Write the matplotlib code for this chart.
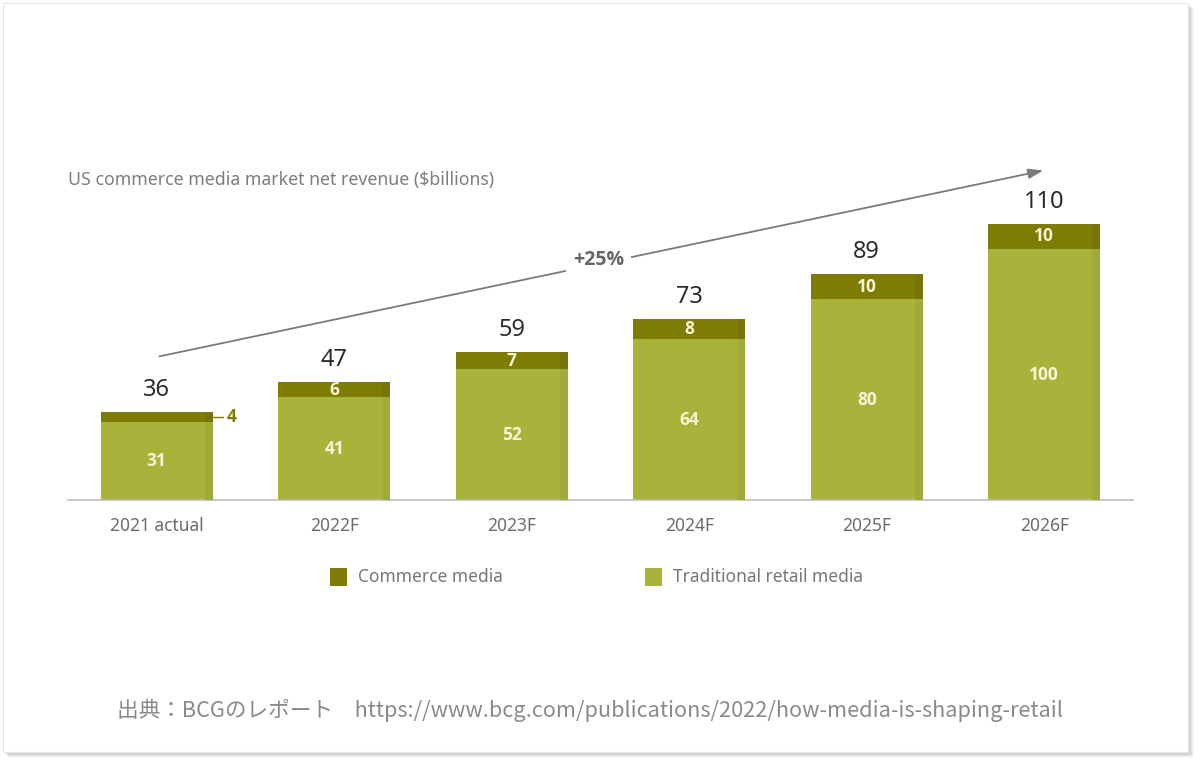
import matplotlib
matplotlib.use("Agg")
import matplotlib.pyplot as plt
from matplotlib.patches import Rectangle
import numpy as np

years = ["2021 actual", "2022F", "2023F", "2024F", "2025F", "2026F"]
traditional = [31, 41, 52, 64, 80, 100]
commerce = [4, 6, 7, 8, 10, 10]
totals = [36, 47, 59, 73, 89, 110]
growth_label = "+25%"

title = "US commerce media market net revenue ($billions)"
footer = "出典：BCGのレポート　https://www.bcg.com/publications/2022/how-media-is-shaping-retail"

c_comm = "#7f7c06"
c_trad = "#a9b33c"
c_comm_edge = "#77740a"
c_trad_edge = "#a0ab3a"
c_inner = "#f7f4d4"

plt.rcParams["font.family"] = ["Noto Sans", "DejaVu Sans"]
BOLD = ["Open Sans", "DejaVu Sans"]

W, H = 1200, 765
fig = plt.figure(figsize=(W / 100, H / 100), dpi=100)
fig.patch.set_facecolor("white")

def px(x0, y0, x1, y1):
    # pixel box (top-left origin) -> figure fraction rect
    return (x0 / W, 1 - y1 / H, (x1 - x0) / W, (y1 - y0) / H)

# card with a soft shadow
for k, a in [(6, 0.05), (5, 0.08), (4, 0.12), (3, 0.18)]:
    l, b, w, h = px(3 + k, 3 + k, 1188 + k, 752 + k)
    fig.patches.append(Rectangle((l, b), w, h, transform=fig.transFigure,
                                 facecolor="#888888", alpha=a, edgecolor="none", zorder=-2))
l, b, w, h = px(3, 3, 1188, 752)
fig.patches.append(Rectangle((l, b), w, h, transform=fig.transFigure,
                             facecolor="white", edgecolor="#e6e6e6", lw=0.8, zorder=-1))

# axes: baseline at y=500px, x from 68 to 1133px, 2.51 px per unit
ax = fig.add_axes(px(68, 100, 1133, 500))
ax.set_zorder(5)
ax.set_xlim(-0.5, 5.5)
ax.set_ylim(0, 400 / 2.51)
ax.patch.set_alpha(0)
for s in ["top", "right", "left"]:
    ax.spines[s].set_visible(False)
ax.spines["bottom"].set_color("#bdbdbd")
ax.spines["bottom"].set_linewidth(1.2)
ax.set_yticks([])
ax.tick_params(axis="x", length=0, pad=12, labelsize=12.5, labelcolor="#6b6b6b")

x = np.arange(len(years))
bw = 0.63
strip = 0.045
ax.bar(x, traditional, bw, color=c_trad, zorder=2)
ax.bar(x, commerce, bw, bottom=traditional, color=c_comm, zorder=2)
# slightly darker strip on the right side of each bar
ax.bar(x + bw / 2 - strip / 2, traditional, strip, color=c_trad_edge, zorder=3)
ax.bar(x + bw / 2 - strip / 2, commerce, strip, bottom=traditional, color=c_comm_edge, zorder=3)

ax.set_xticks(x)
ax.set_xticklabels(years)

for i in range(len(years)):
    ax.text(x[i], traditional[i] / 2, str(traditional[i]), ha="center", va="center",
            color=c_inner, fontsize=12.5, fontweight="bold", family=BOLD, zorder=4)
    top = traditional[i] + commerce[i]
    if i > 0:
        ax.text(x[i], traditional[i] + commerce[i] / 2, str(commerce[i]), ha="center",
                va="center", color=c_inner, fontsize=12.5, fontweight="bold",
                family=BOLD, zorder=4)
    ax.text(x[i], top + 4, str(totals[i]), ha="center", va="bottom",
            color="#2b2b2b", fontsize=17)

# small callout for the first commerce value
y4 = traditional[0] + commerce[0] / 2
ax.plot([x[0] + bw / 2, x[0] + bw / 2 + 0.06], [y4, y4], color=c_comm, lw=1, clip_on=False)
ax.text(x[0] + bw / 2 + 0.08, y4, str(commerce[0]), ha="left", va="center",
        color=c_comm, fontsize=12.5, fontweight="bold", family=BOLD)

# growth arrow
ax.annotate("", xy=(5.01, 131.5), xytext=(0.0, 57.0),
            arrowprops=dict(arrowstyle="-|>,head_length=0.9,head_width=0.3",
                            color="#7a7a7a", lw=1.3), annotation_clip=False)
ax.text(2.49, 95.5, growth_label, ha="center", va="center", color="#666666",
        fontsize=14, fontweight="bold", family=BOLD, zorder=5,
        bbox=dict(facecolor="white", edgecolor="none", pad=5))

fig.text(68 / W, 1 - 180 / H, title, ha="left", va="center", color="#7d7d7d", fontsize=12.75)

# legend
for (lx, tx, col, lab) in [(330, 358, c_comm, "Commerce media"),
                           (645, 673, c_trad, "Traditional retail media")]:
    l, b, w, h = px(lx, 568, lx + 17, 586)
    fig.patches.append(Rectangle((l, b), w, h, transform=fig.transFigure,
                                 facecolor=col, edgecolor="none", zorder=3))
    fig.text(tx / W, 1 - 577 / H, lab, ha="left", va="center", color="#777777", fontsize=12.5)

fig.text(590 / W, 1 - 710 / H, footer, ha="center", va="center", color="#8a8a8a",
         fontsize=15.6, family=["Noto Sans CJK JP", "DejaVu Sans"])

fig.savefig("out.png", dpi=100, facecolor="white")
